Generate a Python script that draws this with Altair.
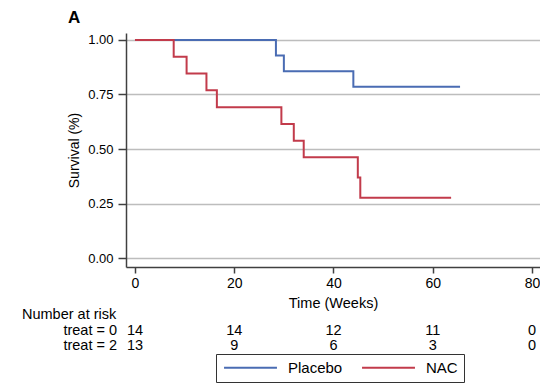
import altair as alt
import pandas as pd

# Kaplan-Meier step data
placebo_t = [0, 28.4, 30.0, 44.0, 65.5]
placebo_s = [1.0, 0.929, 0.857, 0.786, 0.786]
nac_t = [0, 7.8, 10.4, 14.4, 16.5, 29.5, 32.0, 34.0, 44.9, 45.4, 63.7]
nac_s = [1.0, 0.923, 0.846, 0.769, 0.692, 0.615, 0.538, 0.462, 0.369, 0.277, 0.277]

groups = ["Placebo", "NAC"]
colors = ["#4a6cb3", "#c23b4b"]

x_ticks = [0, 20, 40, 60, 80]
y_ticks = [0, 0.25, 0.5, 0.75, 1.0]

risk_times = [0, 20, 40, 60, 80]
risk_treat0 = [14, 14, 12, 11, 0]
risk_treat2 = [13, 9, 6, 3, 0]
row_labels = ["treat = 0", "treat = 2"]

FONT = "Liberation Sans"

km = pd.DataFrame({
    "time": placebo_t + nac_t,
    "surv": placebo_s + nac_s,
    "group": ["Placebo"] * len(placebo_t) + ["NAC"] * len(nac_t),
    "order": [0] * len(placebo_t) + [1] * len(nac_t),
})

xscale = alt.Scale(domain=[-1.81, 81.61], nice=False, zero=False)
yscale = alt.Scale(domain=[-0.041, 1.032], nice=False, zero=False)

lines = alt.Chart(km).mark_line(interpolate="step-after", strokeWidth=2).encode(
    x=alt.X("time:Q", scale=xscale,
            axis=alt.Axis(title="Time (Weeks)", values=x_ticks, grid=False, tickSize=6,
                          labelPadding=3, labelFontSize=14, titleFontSize=14.5, titlePadding=6)),
    y=alt.Y("surv:Q", scale=yscale,
            axis=alt.Axis(title="Survival (%)", values=y_ticks, format=".2f", tickSize=8,
                          labelPadding=5, grid=True, labelFontSize=13, titleFontSize=14,
                          titlePadding=6)),
    color=alt.Color("group:N", scale=alt.Scale(domain=groups, range=colors),
                    legend=alt.Legend(title=None, orient="none", legendX=90, legendY=321,
                                      direction="horizontal", symbolType="M-5,0H5",
                                      symbolSize=112, symbolStrokeWidth=2, symbolOffset=21,
                                      strokeColor="#333333", padding=6,
                                      labelFontSize=15, labelFont=FONT, labelColor="#000000",
                                      labelOffset=30, columnPadding=15)),
    order="order:Q",
    detail="group:N",
)

risk = pd.DataFrame({"time": risk_times, "r0": risk_treat0, "r2": risk_treat2})
r0 = alt.Chart(risk).mark_text(fontSize=14.5, font=FONT, color="#000000", baseline="middle").encode(
    x=alt.X("time:Q", scale=xscale), y=alt.value(298), text="r0:Q")
r2 = alt.Chart(risk).mark_text(fontSize=14.5, font=FONT, color="#000000", baseline="middle").encode(
    x=alt.X("time:Q", scale=xscale), y=alt.value(313), text="r2:Q")

labs = pd.DataFrame({"label": row_labels, "ypos": [298, 313]})
rowlab = alt.Chart(labs).mark_text(fontSize=14.5, font=FONT, color="#000000", align="right",
                                   baseline="middle").encode(
    x=alt.value(-9), y=alt.Y("ypos:Q", scale=None), text="label:N")

head = pd.DataFrame({"label": ["Number at risk"]})
header = alt.Chart(head).mark_text(fontSize=14.5, font=FONT, color="#000000", align="left",
                                   baseline="middle").encode(
    x=alt.value(-104), y=alt.value(282), text="label:N")

panel = pd.DataFrame({"label": ["A"]})
panel_lab = alt.Chart(panel).mark_text(fontSize=17, font=FONT, fontWeight="bold", color="#000000",
                                       align="left", baseline="middle").encode(
    x=alt.value(-58), y=alt.value(-15), text="label:N")

chart = alt.layer(lines, r0, r2, rowlab, header, panel_lab).properties(
    width=414, height=234,
    autosize=alt.AutoSizeParams(type="none"),
    padding={"left": 118, "top": 25, "right": 0, "bottom": 116},
).configure_view(stroke=None).configure_axis(
    labelFont=FONT, titleFont=FONT,
    labelColor="#000000", titleColor="#000000", titleFontWeight="normal",
    domainColor="#404040", domainWidth=1.5, tickColor="#404040", tickWidth=1.5,
    gridColor="#bdbdbd", gridWidth=1.5,
)

chart.save("out.html", embed_options={"renderer": "svg", "actions": False})
